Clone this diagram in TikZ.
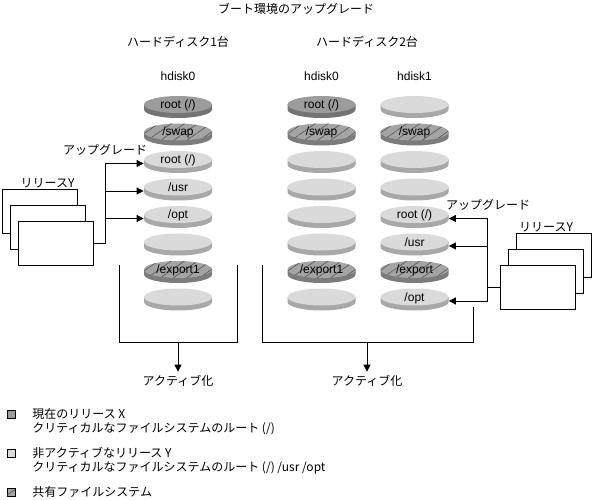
\documentclass[tikz,border=0pt]{standalone}
\usepackage{fontspec}
\setmainfont{Liberation Sans}
\newfontfamily\jpfont{Noto Sans CJK JP}
\usetikzlibrary{arrows.meta,shapes.geometric,patterns.meta}
\definecolor{facecur}{HTML}{9C9C9C}
\definecolor{rimcur}{HTML}{747474}
\definecolor{faceina}{HTML}{DADADA}
\definecolor{rimina}{HTML}{A8A8A8}
\definecolor{faceshr}{HTML}{A4A4A4}
\definecolor{rimshr}{HTML}{7C7C7C}
\definecolor{hatch}{HTML}{555555}
\tikzset{disk/.style={ellipse,minimum width=68pt,minimum height=17pt,inner sep=0pt,text height=8pt,text depth=0pt}}
\tikzset{hatched/.style={postaction={pattern={Lines[angle=35,distance=7.5pt,line width=0.6pt]},pattern color=hatch}}}
\tikzset{cur/.style={disk,fill=facecur}}
\tikzset{ina/.style={disk,fill=faceina}}
\tikzset{shr/.style={disk,fill=faceshr,hatched}}
\tikzset{jp/.style={font=\jpfont\fontsize{12}{14}\selectfont}}
\tikzset{rel/.style={draw,fill=white,minimum width=75pt,minimum height=44pt,inner sep=0pt}}
\tikzset{key/.style={draw,minimum size=8pt,inner sep=0pt}}

\begin{document}
\begin{tikzpicture}[x=1pt,y=-1pt,line width=0.8pt,>={Triangle[length=7pt,width=7pt]},font=\fontsize{12}{14}\selectfont]
  \useasboundingbox (0,0) rectangle (592,500);
  % titles
  \node[jp] (title) at (296,9) {ブート環境のアップグレード};
  \node[jp] (hd1) at (178,42) {ハードディスク1台};
  \node[jp] (hd2) at (367,42) {ハードディスク2台};
  \node (h0) at (178,76) {hdisk0};
  \node (h0b) at (321.5,76) {hdisk0};
  \node (h1b) at (414.5,76) {hdisk1};
  % disks, one disk
  \foreach \k/\ty/\l in {0/cur/{root (/)},1/shr/{/swap},2/ina/{root (/)},3/ina/{/usr},4/ina/{/opt},5/ina/{},6/shr/{/export1},7/ina/{}}{
    \pgfmathsetmacro\y{104.5+27.5*\k}
    \fill[rim\ty] (144,\y) -- ++(0,5) arc[start angle=180,end angle=360,x radius=34pt,y radius=8.5pt] -- ++(0,-5) -- cycle;
    \node[\ty] (L\k) at (178,\y) {\l};
  }
  % disks, two disks
  \foreach \k/\ty/\l in {0/cur/{root (/)},1/shr/{/swap},2/ina/{},3/ina/{},4/ina/{},5/ina/{},6/shr/{/export1},7/ina/{}}{
    \pgfmathsetmacro\y{104.5+27.5*\k}
    \fill[rim\ty] (287.5,\y) -- ++(0,5) arc[start angle=180,end angle=360,x radius=34pt,y radius=8.5pt] -- ++(0,-5) -- cycle;
    \node[\ty] (A\k) at (321.5,\y) {\l};
  }
  \foreach \k/\ty/\l in {0/ina/{},1/shr/{/swap},2/ina/{},3/ina/{},4/ina/{root (/)},5/ina/{/usr},6/shr/{/export},7/ina/{/opt}}{
    \pgfmathsetmacro\y{104.5+27.5*\k}
    \fill[rim\ty] (380.5,\y) -- ++(0,5) arc[start angle=180,end angle=360,x radius=34pt,y radius=8.5pt] -- ++(0,-5) -- cycle;
    \node[\ty] (B\k) at (414.5,\y) {\l};
  }
  % release Y, left
  \node[rel] (ly1) at (39.5,211) {};
  \node[rel] (ly2) at (47.5,227.5) {};
  \node[rel] (ly3) at (55.5,243.5) {};
  \node[jp] (lrel) at (47.5,183) {リリースY};
  \node[jp] (lup) at (105,150) {アップグレード};
  \draw (ly3.east) -- ++(12,0) coordinate (jl);
  \foreach \k in {2,3,4}
    \draw[->] (jl) |- ([yshift=-4pt]L\k.west);
  % release Y, right
  \node[rel] (ry1) at (554,255) {};
  \node[rel] (ry2) at (546,271) {};
  \node[rel] (ry3) at (537.5,287) {};
  \node[jp] (rrel) at (546,227) {リリースY};
  \node[jp] (rup) at (488,205) {アップグレード};
  \draw (ry3.west) -- ++(-12,0) coordinate (jr);
  \foreach \k in {4,5,7}
    \draw[->] (jr) |- ([yshift=-4pt]B\k.east);
  % activation
  \draw (119,265) |- (237,342) -- (237,265);
  \coordinate (b1) at (178,342);
  \node[jp] (act1) at (178,381) {アクティブ化};
  \draw[->] (b1) -- (act1.north);
  \draw (262,265) |- (473,342) -- (473,307);
  \coordinate (b2) at (367,342);
  \node[jp] (act2) at (367,381) {アクティブ化};
  \draw[->] (b2) -- (act2.north);
  % legend
  \node[key,fill=facecur] (k1) at (11,414) {};
  \node[jp,anchor=west,align=left,inner sep=0pt] (t1) at (32,422) {現在のリリース X\\クリティカルなファイルシステムのルート (/)};
  \node[key,fill=faceina] (k2) at (11,453) {};
  \node[jp,anchor=west,align=left,inner sep=0pt] (t2) at (32,461) {非アクティブなリリース Y\\クリティカルなファイルシステムのルート (/) /usr /opt};
  \node[key,fill=faceshr,hatched] (k3) at (11,492) {};
  \node[jp,anchor=west,inner sep=0pt] (t3) at (32,492) {共有ファイルシステム};
\end{tikzpicture}
\end{document}
